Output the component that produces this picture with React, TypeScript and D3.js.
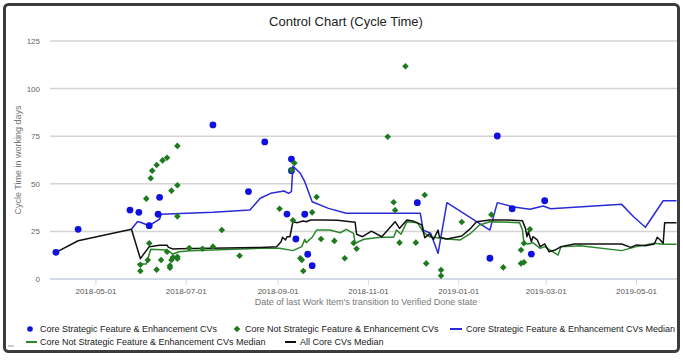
import React from "react";
import * as d3 from "d3";

const W = 683, H = 360;

const yTicks = [0, 25, 50, 75, 100, 125];
const xTicks = ["2018-05-01", "2018-07-01", "2018-09-01", "2018-11-01", "2019-01-01", "2019-03-01", "2019-05-01"];
const xDomain = ["2018-03-31", "2019-05-29"];

// Core Strategic Feature & Enhancement CVs (points)
const strategicPts: [string, number][] = [
  ["2018-04-04", 14.0], ["2018-04-19", 26.1], ["2018-05-24", 36.2], ["2018-05-30", 35.0],
  ["2018-06-06", 28.0], ["2018-06-12", 34.0], ["2018-06-13", 42.9], ["2018-07-19", 80.9],
  ["2018-08-12", 45.9], ["2018-08-23", 72.0], ["2018-09-10", 63.0], ["2018-09-10", 56.9],
  ["2018-09-07", 34.1], ["2018-09-19", 34.0], ["2018-09-13", 21.0], ["2018-09-21", 13.0],
  ["2018-09-24", 7.0], ["2018-12-04", 40.1], ["2019-01-27", 75.1], ["2019-02-28", 41.1],
  ["2019-02-06", 36.9], ["2019-01-22", 10.9], ["2019-02-19", 13.1],
];

// Core Not Strategic Feature & Enhancement CVs (points)
const notStrategicPts: [string, number][] = [
  ["2018-06-25", 69.9], ["2018-06-18", 63.7], ["2018-06-15", 62.3], ["2018-06-11", 59.9],
  ["2018-06-08", 56.9], ["2018-06-07", 52.9], ["2018-06-25", 49.2], ["2018-06-21", 46.4],
  ["2018-06-04", 42.2], ["2018-06-25", 32.9], ["2018-07-25", 25.7], ["2018-06-06", 18.8],
  ["2018-05-31", 7.5], ["2018-05-31", 4.2], ["2018-06-05", 10.0], ["2018-06-11", 4.9],
  ["2018-06-14", 10.0], ["2018-06-18", 14.3], ["2018-06-20", 7.0], ["2018-06-20", 5.9],
  ["2018-06-21", 10.0], ["2018-06-22", 11.4], ["2018-06-25", 11.7], ["2018-06-25", 10.7],
  ["2018-07-03", 16.3], ["2018-07-12", 15.9], ["2018-07-19", 17.0], ["2018-08-06", 12.2],
  ["2018-11-26", 111.7], ["2018-11-14", 74.7], ["2018-09-12", 60.9], ["2018-09-10", 57.2],
  ["2018-09-27", 43.1], ["2018-09-02", 36.9], ["2018-09-24", 35.0], ["2018-09-11", 30.8],
  ["2018-09-30", 21.0], ["2018-10-09", 20.0], ["2018-09-16", 10.9], ["2018-09-17", 10.0],
  ["2018-09-18", 4.2], ["2018-10-16", 10.9], ["2018-10-22", 18.9], ["2018-10-24", 15.9],
  ["2018-11-18", 40.3], ["2018-11-19", 36.1], ["2018-12-09", 44.1], ["2018-11-22", 19.1],
  ["2018-12-03", 19.1], ["2018-12-10", 8.2], ["2018-12-20", 4.7], ["2018-12-20", 1.7],
  ["2019-01-03", 29.9], ["2019-01-23", 33.8], ["2019-02-18", 26.1], ["2019-02-14", 18.8],
  ["2019-02-12", 15.2], ["2019-02-14", 8.8], ["2019-02-12", 8.2], ["2019-01-31", 6.1],
];

// Core Strategic Feature & Enhancement CVs Median
const strategicMedian: [string, number][] = [
  ["2018-05-25", 26.1], ["2018-05-29", 30.1], ["2018-05-31", 29.8], ["2018-06-06", 28.0],
  ["2018-06-13", 31.5], ["2018-06-14", 34.0], ["2018-07-19", 35.0], ["2018-08-13", 36.2],
  ["2018-08-20", 42.4], ["2018-08-27", 45.0], ["2018-09-05", 46.2], ["2018-09-08", 45.0],
  ["2018-09-10", 45.9], ["2018-09-11", 59.3], ["2018-09-16", 55.5], ["2018-09-19", 51.1],
  ["2018-09-24", 40.6], ["2018-10-05", 37.1], ["2018-10-17", 34.5], ["2018-12-06", 34.5],
  ["2018-12-08", 25.7], ["2018-12-13", 24.0], ["2018-12-18", 13.5], ["2018-12-24", 40.1],
  ["2019-01-22", 25.7], ["2019-01-27", 40.1], ["2019-02-06", 38.0], ["2019-02-18", 36.6],
  ["2019-02-27", 38.3], ["2019-03-04", 36.9], ["2019-04-21", 39.2], ["2019-04-29", 32.7],
  ["2019-05-07", 27.2], ["2019-05-19", 41.1], ["2019-05-28", 41.1],
];

// Core Not Strategic Feature & Enhancement CVs Median
const notStrategicMedian: [string, number][] = [
  ["2018-05-29", 7.9], ["2018-06-04", 7.9], ["2018-06-07", 15.6], ["2018-06-18", 15.2],
  ["2018-06-22", 13.1], ["2018-06-26", 14.3], ["2018-07-04", 14.9], ["2018-08-20", 16.1],
  ["2018-09-02", 16.1], ["2018-09-11", 14.9], ["2018-09-17", 17.0], ["2018-09-19", 20.9],
  ["2018-09-20", 19.1], ["2018-09-24", 21.9], ["2018-09-27", 25.7], ["2018-10-06", 25.7],
  ["2018-10-13", 24.3], ["2018-10-17", 26.1], ["2018-10-22", 24.0], ["2018-10-23", 18.8],
  ["2018-10-29", 20.9], ["2018-11-09", 21.9], ["2018-11-18", 21.9], ["2018-11-20", 25.7],
  ["2018-11-23", 23.5], ["2018-11-27", 30.1], ["2018-12-04", 29.6], ["2018-12-08", 24.8],
  ["2018-12-12", 22.2], ["2018-12-24", 21.0], ["2019-01-02", 20.5], ["2019-01-09", 24.0],
  ["2019-01-15", 28.4], ["2019-01-22", 30.1], ["2019-02-11", 29.6], ["2019-02-13", 25.7],
  ["2019-02-14", 18.8], ["2019-02-17", 18.4], ["2019-02-20", 19.1], ["2019-02-25", 16.1],
  ["2019-02-28", 17.0], ["2019-03-09", 12.6], ["2019-03-11", 17.0], ["2019-03-24", 17.5],
  ["2019-04-21", 14.9], ["2019-05-01", 17.0], ["2019-05-13", 18.8], ["2019-05-19", 18.2],
  ["2019-05-28", 18.2],
];

// All Core CVs Median
const allMedian: [string, number][] = [
  ["2018-04-04", 14.0], ["2018-04-19", 20.1], ["2018-05-25", 26.1], ["2018-05-31", 10.7],
  ["2018-06-06", 17.0], ["2018-06-13", 17.7], ["2018-06-18", 17.7], ["2018-06-19", 16.6],
  ["2018-06-22", 15.8], ["2018-06-26", 15.9], ["2018-08-20", 16.6], ["2018-08-31", 17.0],
  ["2018-09-03", 19.6], ["2018-09-04", 21.9], ["2018-09-06", 20.5], ["2018-09-07", 22.2],
  ["2018-09-09", 22.2], ["2018-09-11", 30.1], ["2018-09-14", 29.6], ["2018-09-16", 30.1],
  ["2018-09-18", 30.5], ["2018-09-20", 30.1], ["2018-09-23", 31.0], ["2018-10-02", 31.0],
  ["2018-10-11", 30.8], ["2018-10-23", 29.8], ["2018-10-24", 23.5], ["2018-10-28", 22.2],
  ["2018-11-03", 25.1], ["2018-11-10", 22.2], ["2018-11-19", 30.1], ["2018-11-22", 26.6],
  ["2018-11-27", 31.0], ["2018-12-01", 30.5], ["2018-12-07", 28.4], ["2018-12-09", 21.7],
  ["2018-12-12", 23.6], ["2018-12-15", 20.9], ["2018-12-18", 25.7], ["2018-12-19", 21.9],
  ["2018-12-24", 21.0], ["2019-01-03", 22.6], ["2019-01-09", 26.6], ["2019-01-13", 30.1],
  ["2019-01-22", 31.0], ["2019-02-02", 31.0], ["2019-02-13", 30.6], ["2019-02-15", 26.6],
  ["2019-02-16", 22.2], ["2019-02-17", 24.8], ["2019-02-19", 19.6], ["2019-02-20", 22.2],
  ["2019-02-23", 20.5], ["2019-02-25", 17.0], ["2019-02-28", 18.4], ["2019-03-03", 14.3],
  ["2019-03-07", 15.2], ["2019-03-11", 17.0], ["2019-03-20", 18.4], ["2019-04-21", 18.4],
  ["2019-04-27", 16.6], ["2019-05-01", 17.9], ["2019-05-07", 17.5], ["2019-05-13", 18.4],
  ["2019-05-15", 21.9], ["2019-05-17", 20.5], ["2019-05-19", 18.8], ["2019-05-20", 29.6],
  ["2019-05-28", 29.6],
];

const BLUE = "#1010e0";
const GREEN = "#1f7a1f";
const BLUE_LINE = "#2a2ad8";
const GREEN_LINE = "#2b862b";
const BLACK = "#111111";

const FONT = "'Liberation Sans', Arial, sans-serif";

const parse = d3.timeParse("%Y-%m-%d");

// small square diamond marker like the original
const diamond = "M0,-3.3L3.3,0L0,3.3L-3.3,0Z";

export default function App() {
  const left = 50, right = 678, top = 41, bottom = 279;

  const x = d3.scaleTime()
    .domain(xDomain.map(d => parse(d) as Date))
    .range([left, right]);
  const y = d3.scaleLinear().domain([0, 125]).range([bottom, top]);

  const line = d3.line<[string, number]>()
    .x(d => x(parse(d[0]) as Date))
    .y(d => y(d[1]));

  const fmt = d3.timeFormat("%Y-%m-%d");

  const lines: { data: [string, number][]; color: string }[] = [
    { data: strategicMedian, color: BLUE_LINE },
    { data: notStrategicMedian, color: GREEN_LINE },
    { data: allMedian, color: BLACK },
  ];

  return (
    <div style={{ position: "fixed", left: 0, top: 0 }}>
      <svg width={W} height={H} style={{ display: "block", fontFamily: FONT }}>
        <defs>
          <clipPath id="plot">
            <rect x={left} y={0} width={right - left} height={bottom + 2} />
          </clipPath>
        </defs>
        <rect x={0} y={0} width={W} height={H} fill="#fff" />

        {/* Title */}
        <text x={346} y={26} textAnchor="middle" fontSize={13} fill="#222">
          Control Chart (Cycle Time)
        </text>

        {/* Gridlines + y ticks */}
        {yTicks.map(t => (
          <g key={t}>
            <line x1={left} x2={right} y1={y(t)} y2={y(t)}
              stroke={t === 0 ? "#c6cde0" : "#d4d4d4"} strokeWidth={1.5} />
            <text x={40} y={y(t) + 3} textAnchor="end" fontSize={8} fill="#666">{t}</text>
          </g>
        ))}

        {/* x ticks */}
        {xTicks.map(t => {
          const xx = x(parse(t) as Date);
          return (
            <g key={t}>
              <line x1={xx} x2={xx} y1={bottom} y2={bottom + 6} stroke="#d8d8d8" strokeWidth={1} />
              <text x={xx} y={294} textAnchor="middle" fontSize={8} fill="#555">
                {fmt(parse(t) as Date)}
              </text>
            </g>
          );
        })}

        {/* Axis titles */}
        <text x={366} y={305} textAnchor="middle" fontSize={9} fill="#777">
          Date of last Work Item's transition to Verified Done state
        </text>
        <text transform={`translate(21, ${(top + bottom) / 2}) rotate(-90)`} textAnchor="middle"
          fontSize={9} fill="#777">
          Cycle Time in working days
        </text>

        <g clipPath="url(#plot)">
          {lines.map((l, i) => (
            <path key={i} d={line(l.data) || ""} fill="none" stroke={l.color} strokeWidth={1.5}
              strokeLinejoin="round" />
          ))}
          {strategicPts.map((d, i) => (
            <circle key={"s" + i} cx={x(parse(d[0]) as Date)} cy={y(d[1])} r={3.4} fill={BLUE} />
          ))}
          {notStrategicPts.map((d, i) => (
            <path key={"n" + i} d={diamond}
              transform={`translate(${x(parse(d[0]) as Date)}, ${y(d[1])})`} fill={GREEN} />
          ))}
        </g>

        {/* Legend */}
        <g fontSize={9} fill="#1a1a1a">
          <circle cx={30} cy={329} r={2.8} fill={BLUE} />
          <text x={40} y={332}>Core Strategic Feature &amp; Enhancement CVs</text>
          <path d={diamond} transform="translate(237, 329)" fill={GREEN} />
          <text x={245} y={332}>Core Not Strategic Feature &amp; Enhancement CVs</text>
          <line x1={450} x2={462} y1={329} y2={329} stroke={BLUE_LINE} strokeWidth={2} />
          <text x={466} y={332}>Core Strategic Feature &amp; Enhancement CVs Median</text>
          <line x1={26} x2={37} y1={342} y2={342} stroke={GREEN_LINE} strokeWidth={2} />
          <text x={40} y={345}>Core Not Strategic Feature &amp; Enhancement CVs Median</text>
          <line x1={285} x2={296} y1={342} y2={342} stroke={BLACK} strokeWidth={2} />
          <text x={300} y={345}>All Core CVs Median</text>
        </g>

        {/* Frame */}
        <rect x={4.5} y={4.5} width={674} height={347} rx={4} fill="none" stroke="#3c3c3c" strokeWidth={3} />
        <line x1={8} x2={14} y1={346} y2={346} stroke="#999" strokeWidth={1} />
      </svg>
    </div>
  );
}
